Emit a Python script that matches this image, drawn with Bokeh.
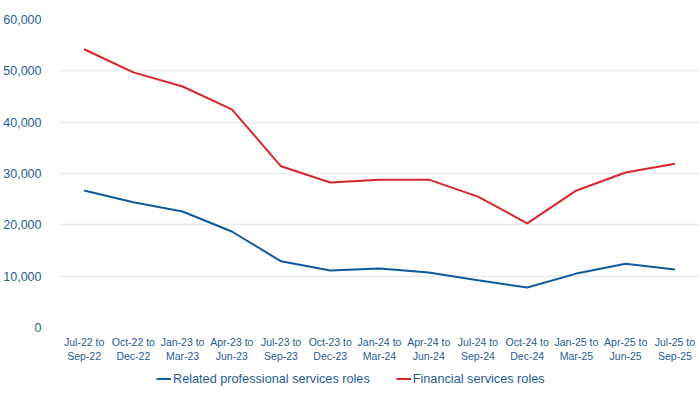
from bokeh.plotting import figure
from bokeh.layouts import column
from bokeh.models import FixedTicker, Range1d, Legend, LegendItem, NumeralTickFormatter
from bokeh.embed import file_html
from bokeh.resources import INLINE

periods = ["Jul-22 to\nSep-22", "Oct-22 to\nDec-22", "Jan-23 to\nMar-23", "Apr-23 to\nJun-23",
           "Jul-23 to\nSep-23", "Oct-23 to\nDec-23", "Jan-24 to\nMar-24", "Apr-24 to\nJun-24",
           "Jul-24 to\nSep-24", "Oct-24 to\nDec-24", "Jan-25 to\nMar-25", "Apr-25 to\nJun-25",
           "Jul-25 to\nSep-25"]
related_professional = [26700, 24400, 22600, 18700, 12900, 11100, 11500, 10700, 9200, 7800, 10500, 12400, 11300]
financial_services = [54200, 49700, 46950, 42500, 31400, 28250, 28800, 28800, 25500, 20300, 26700, 30200, 31900]
series_names = ["Related professional services roles", "Financial services roles"]
y_ticks = [0, 10000, 20000, 30000, 40000, 50000, 60000]

xs = list(range(len(periods)))

BLUE = "#0E5A9C"
RED = "#D9262A"
TEXT = "#1F5C97"
FONT = "Liberation Sans"

p = figure(width=699, height=366, output_backend="svg", toolbar_location=None,
           x_range=Range1d(-0.5, 12.5), y_range=Range1d(0, 60000))
p.min_border_left = 52
p.min_border_right = 0
p.min_border_top = 19
p.min_border_bottom = 39
p.outline_line_color = None
p.background_fill_color = "white"
p.border_fill_color = "white"

r1 = p.line(xs, related_professional, line_color=BLUE, line_width=2)
r2 = p.line(xs, financial_services, line_color=RED, line_width=2)

p.xgrid.grid_line_color = None
p.ygrid.grid_line_color = "#EBEBEB"
p.ygrid.grid_line_width = 1.5

p.yaxis.ticker = FixedTicker(ticks=y_ticks)
p.yaxis.formatter = NumeralTickFormatter(format="0,0")
p.xaxis.ticker = FixedTicker(ticks=xs)
p.xaxis.major_label_overrides = {i: lab for i, lab in enumerate(periods)}

for ax in (p.xaxis[0], p.yaxis[0]):
    ax.axis_line_color = None
    ax.major_tick_line_color = None
    ax.minor_tick_line_color = None
    ax.major_label_text_color = TEXT
    ax.major_label_text_font = FONT
p.yaxis.major_label_text_font_size = "12.5px"
p.yaxis.major_label_standoff = 12
p.xaxis.major_label_text_font_size = "10.5px"
p.xaxis.major_label_standoff = 2

# legend strip below the chart
lg = figure(width=699, height=27, output_backend="svg", toolbar_location=None,
            x_range=Range1d(0, 1), y_range=Range1d(0, 1),
            x_axis_location=None, y_axis_location=None)
lg.min_border_left = 0
lg.min_border_right = 0
lg.min_border_top = 0
lg.min_border_bottom = 0
lg.outline_line_color = None
lg.xgrid.grid_line_color = None
lg.ygrid.grid_line_color = None
l1 = lg.line([-5, -4], [-5, -4], line_color=BLUE, line_width=2)
l2 = lg.line([-5, -4], [-5, -4], line_color=RED, line_width=2)

legend = Legend(items=[LegendItem(label=series_names[0], renderers=[l1]),
                       LegendItem(label=series_names[1], renderers=[l2])],
                orientation="horizontal", location=(97, 7),
                label_text_font=FONT, label_text_font_size="12.7px", label_text_color=TEXT,
                glyph_width=15, glyph_height=15, label_height=15,
                label_standoff=2, spacing=26,
                background_fill_alpha=0, border_line_color=None,
                padding=0, margin=0)
lg.add_layout(legend, "center")

layout = column(p, lg, spacing=0)
open("out.html", "w").write(file_html(layout, INLINE))
